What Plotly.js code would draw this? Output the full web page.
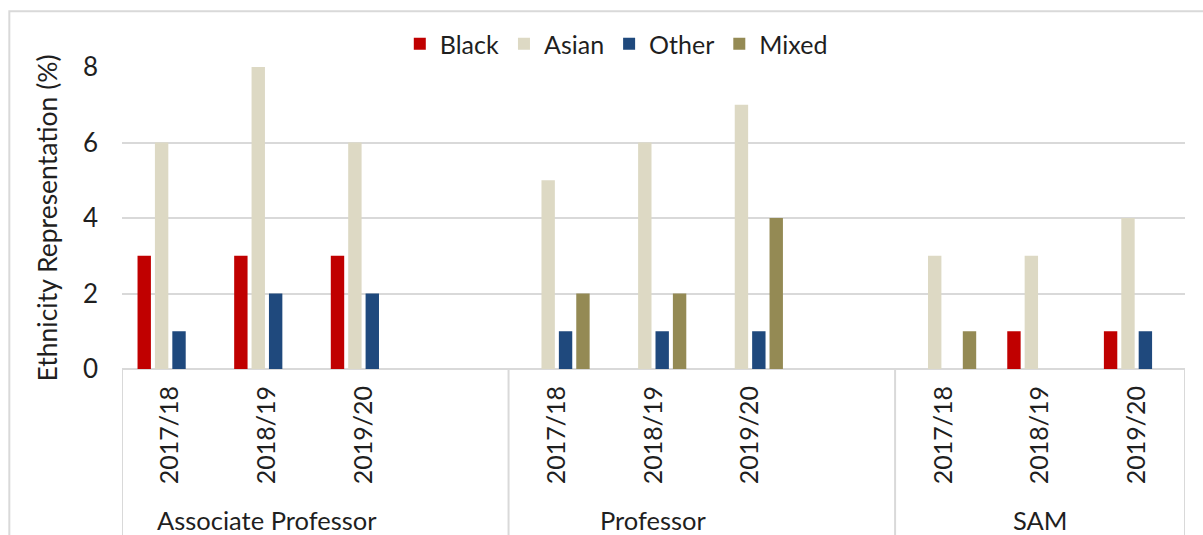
<!DOCTYPE html>
<html>
<head>
<meta charset="utf-8">
<script src="https://cdn.plot.ly/plotly-3.0.1.min.js"></script>
<style>
  html, body { margin: 0; padding: 0; background: #fff; }
  #chart { width: 1203px; height: 535px; }
</style>
</head>
<body>
<div id="chart"></div>
<script>
// ---- Data ----
const groups = ['Associate Professor', 'Professor', 'SAM'];
const years = ['2017/18', '2018/19', '2019/20'];
const seriesNames = ['Black', 'Asian', 'Other', 'Mixed'];
// values in order: group-major, year-minor
const blackVals = [3, 3, 3,  0, 0, 0,  0, 1, 1];
const asianVals = [6, 8, 6,  5, 6, 7,  3, 3, 4];
const otherVals = [1, 2, 2,  1, 1, 1,  0, 0, 1];
const mixedVals = [0, 0, 0,  2, 2, 4,  1, 0, 0];
const colors = ['#C00000', '#DDD9C4', '#1F497D', '#948A54'];

// ---- Category positions (one blank slot between groups) ----
const slotsPerGroup = years.length + 1;
const xPos = [], xText = [];
groups.forEach((g, gi) => years.forEach((y, yi) => {
  xPos.push(gi * slotsPerGroup + yi);
  xText.push(y);
}));
const nSlots = groups.length * slotsPerGroup - 1;

const allVals = [blackVals, asianVals, otherVals, mixedVals];
const traces = seriesNames.map((name, si) => ({
  type: 'bar',
  name: name,
  x: xPos,
  y: allVals[si],
  marker: { color: colors[si], line: { width: 0 } },
  hoverinfo: 'name+y'
}));

const FONT = 'Lato, "Open Sans", sans-serif';
const TXT = '#1f1f1f';
const LINE = '#d9d9d9';
const FS = 26;

// ---- Dividers and group labels ----
const shapes = [];
const annotations = [];
const boundaries = [-0.5];
groups.forEach((g, gi) => {
  if (gi > 0) boundaries.push(gi * slotsPerGroup - 0.5);
  annotations.push({
    xref: 'x', yref: 'paper',
    x: gi * slotsPerGroup + (years.length - 1) / 2,
    y: -0.5, yanchor: 'middle', xanchor: 'center',
    text: g, showarrow: false,
    font: { family: FONT, size: FS - 0.5, color: TXT }
  });
});
boundaries.push(nSlots - 0.5);
boundaries.forEach(b => shapes.push({
  type: 'line', xref: 'x', yref: 'paper',
  x0: b, x1: b, y0: 0, y1: -0.6,
  line: { color: LINE, width: 2 }
}));
// outer chart border (partially cropped in the reference)
shapes.push({
  type: 'rect', xref: 'paper', yref: 'paper',
  x0: -0.106, x1: 1.2, y0: -0.7, y1: 1.185,
  line: { color: LINE, width: 2 }, fillcolor: 'rgba(0,0,0,0)'
});

const layout = {
  width: 1203, height: 535,
  margin: { l: 122, r: 18, t: 67, b: 166 },
  paper_bgcolor: '#ffffff', plot_bgcolor: '#ffffff',
  font: { family: FONT, size: FS, color: TXT },
  barmode: 'group',
  bargap: 0.28,
  bargroupgap: 0.23,
  showlegend: true,
  legend: {
    orientation: 'h',
    x: 0.465, xanchor: 'center',
    y: 1.076, yanchor: 'middle',
    font: { family: FONT, size: FS - 1, color: TXT },
    bgcolor: 'rgba(0,0,0,0)'
  },
  xaxis: {
    type: 'linear',
    range: [-0.5, nSlots - 0.5],
    tickmode: 'array',
    tickvals: xPos,
    ticktext: xText,
    tickangle: -90,
    ticks: '',
    ticklen: 0,
    ticklabelstandoff: 11,
    showgrid: false,
    zeroline: false,
    showline: false,
    tickfont: { family: FONT, size: FS - 1, color: TXT },
    fixedrange: true
  },
  yaxis: {
    range: [0, 8],
    tickvals: [0, 2, 4, 6, 8],
    showgrid: true,
    gridcolor: LINE,
    gridwidth: 2,
    zeroline: true,
    zerolinecolor: LINE,
    zerolinewidth: 2,
    showline: false,
    ticks: '',
    ticklen: 0,
    ticklabelstandoff: 23,
    tickfont: { family: FONT, size: FS, color: TXT },
    title: {
      text: 'Ethnicity Representation (%)',
      font: { family: FONT, size: FS + 0.5, color: TXT },
      standoff: 17
    },
    automargin: false,
    fixedrange: true
  },
  shapes: shapes,
  annotations: annotations
};

Plotly.newPlot('chart', traces, layout, { displayModeBar: false, staticPlot: true });
</script>
</body>
</html>
